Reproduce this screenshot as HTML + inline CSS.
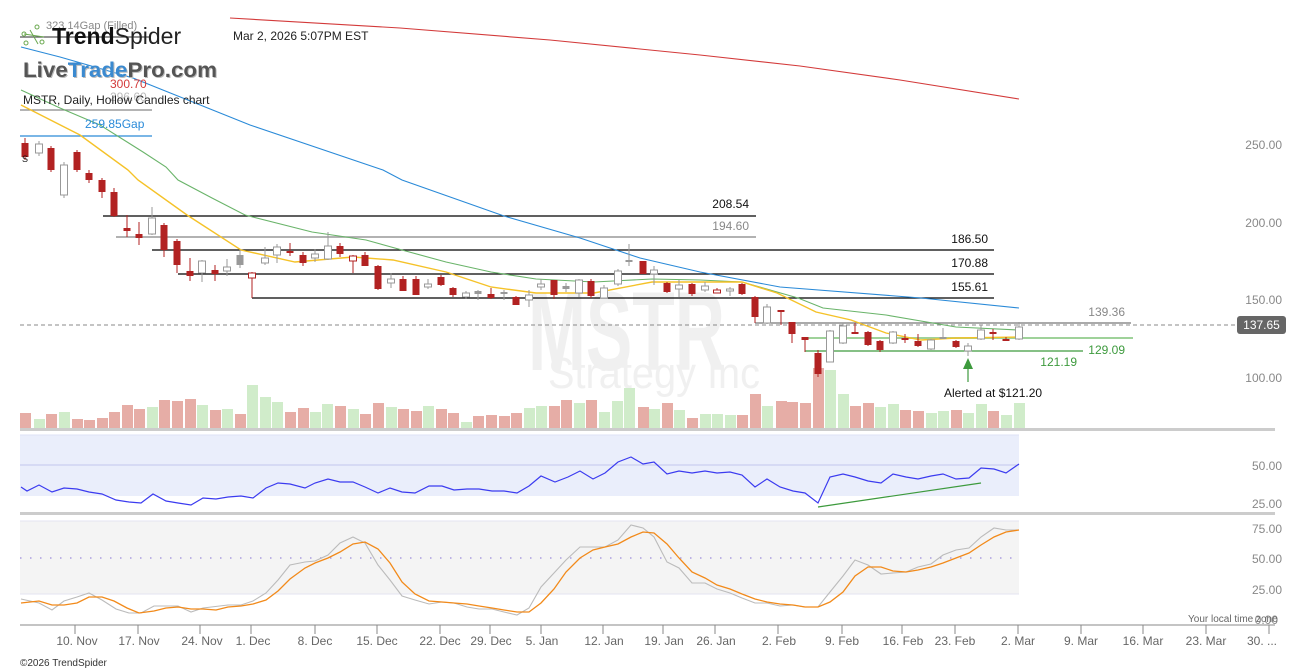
<!DOCTYPE html>
<html><head><meta charset="utf-8"><style>
body{margin:0;background:#fff;}
svg{display:block;font-family:"Liberation Sans",sans-serif;}
</style></head><body>
<svg width="1307" height="672" viewBox="0 0 1307 672" xmlns="http://www.w3.org/2000/svg">
<rect width="1307" height="672" fill="#fff"/>
<text x="528" y="370" font-size="112" font-weight="bold" fill="#f0f0f0" textLength="197" lengthAdjust="spacingAndGlyphs">MSTR</text>
<text x="548" y="388" font-size="44" fill="#f0f0f0" textLength="212" lengthAdjust="spacingAndGlyphs">Strategy Inc</text>

<g stroke="none">
<g fill="#e6ada6">
<rect x="20" y="413" width="11" height="15"/><rect x="46" y="414" width="11" height="14"/><rect x="72" y="419" width="11" height="9"/><rect x="84" y="420" width="11" height="8"/><rect x="97" y="418" width="11" height="10"/><rect x="109" y="412" width="11" height="16"/><rect x="122" y="405" width="11" height="23"/><rect x="134" y="409" width="11" height="19"/><rect x="159" y="400" width="11" height="28"/><rect x="172" y="401" width="11" height="27"/><rect x="185" y="399" width="11" height="29"/><rect x="210" y="410" width="11" height="18"/><rect x="235" y="414" width="11" height="14"/><rect x="285" y="412" width="11" height="16"/><rect x="298" y="408" width="11" height="20"/><rect x="335" y="406" width="11" height="22"/><rect x="360" y="414" width="11" height="14"/><rect x="373" y="403" width="11" height="25"/><rect x="398" y="409" width="11" height="19"/><rect x="411" y="411" width="11" height="17"/><rect x="436" y="409" width="11" height="19"/><rect x="448" y="413" width="11" height="15"/><rect x="473" y="416" width="11" height="12"/><rect x="486" y="415" width="11" height="13"/><rect x="499" y="416" width="11" height="12"/><rect x="511" y="413" width="11" height="15"/><rect x="549" y="406" width="11" height="22"/><rect x="561" y="400" width="11" height="28"/><rect x="586" y="400" width="11" height="28"/><rect x="638" y="407" width="11" height="21"/><rect x="662" y="403" width="11" height="25"/><rect x="687" y="418" width="11" height="10"/>
<rect x="737" y="415" width="11" height="13"/><rect x="750" y="394" width="11" height="34"/><rect x="776" y="401" width="11" height="27"/><rect x="787" y="402" width="11" height="26"/><rect x="800" y="403" width="11" height="25"/><rect x="813" y="368" width="11" height="60"/><rect x="850" y="406" width="11" height="22"/><rect x="863" y="403" width="11" height="25"/><rect x="900" y="410" width="11" height="18"/><rect x="913" y="411" width="11" height="17"/><rect x="951" y="410" width="11" height="18"/><rect x="988" y="411" width="11" height="17"/>
</g>
<g fill="#d0ecca">
<rect x="34" y="419" width="11" height="9"/><rect x="59" y="412" width="11" height="16"/><rect x="147" y="407" width="11" height="21"/><rect x="197" y="405" width="11" height="23"/><rect x="222" y="409" width="11" height="19"/><rect x="247" y="385" width="11" height="43"/><rect x="260" y="397" width="11" height="31"/><rect x="272" y="402" width="11" height="26"/><rect x="310" y="412" width="11" height="16"/><rect x="322" y="404" width="11" height="24"/><rect x="348" y="409" width="11" height="19"/><rect x="386" y="407" width="11" height="21"/><rect x="423" y="406" width="11" height="22"/><rect x="461" y="422" width="11" height="6"/><rect x="524" y="408" width="11" height="20"/><rect x="536" y="406" width="11" height="22"/><rect x="574" y="403" width="11" height="25"/><rect x="599" y="412" width="11" height="16"/><rect x="612" y="401" width="11" height="27"/><rect x="624" y="388" width="11" height="40"/><rect x="649" y="409" width="11" height="19"/><rect x="674" y="410" width="11" height="18"/>
<rect x="700" y="414" width="11" height="14"/><rect x="712" y="414" width="11" height="14"/><rect x="725" y="415" width="11" height="13"/><rect x="762" y="406" width="11" height="22"/><rect x="825" y="370" width="11" height="58"/><rect x="838" y="394" width="11" height="34"/><rect x="875" y="407" width="11" height="21"/><rect x="888" y="404" width="11" height="24"/><rect x="926" y="413" width="11" height="15"/><rect x="938" y="411" width="11" height="17"/><rect x="963" y="413" width="11" height="15"/><rect x="976" y="404" width="11" height="24"/><rect x="1001" y="415" width="11" height="13"/><rect x="1014" y="403" width="11" height="25"/>
</g>
</g>
<rect x="20" y="428" width="1255" height="3" fill="#cccccc"/>

<g stroke-width="1.2">
<line x1="103" y1="216" x2="756" y2="216" stroke="#000"/>
<line x1="116" y1="237" x2="756" y2="237" stroke="#999" stroke-width="1.5"/>
<line x1="152" y1="250" x2="994" y2="250" stroke="#000"/>
<line x1="178" y1="274" x2="994" y2="274" stroke="#000"/>
<line x1="252" y1="298" x2="994" y2="298" stroke="#000"/>
<line x1="755" y1="323" x2="1131" y2="323" stroke="#777"/>
<line x1="805" y1="338" x2="1133" y2="338" stroke="#9fd29a" stroke-width="2"/>
<line x1="805" y1="351" x2="1083" y2="351" stroke="#3d9a3d"/>
<line x1="20" y1="37" x2="150" y2="37" stroke="#555"/>
<line x1="20" y1="110" x2="152" y2="110" stroke="#888"/>
<line x1="20" y1="136" x2="152" y2="136" stroke="#2a8ad8"/>
</g>
<line x1="20" y1="325" x2="1235" y2="325" stroke="#888" stroke-dasharray="4,3"/>
<g font-size="12" text-anchor="end">
<text x="749" y="208" fill="#111">208.54</text>
<text x="749" y="230" fill="#888">194.60</text>
<text x="988" y="243" fill="#111">186.50</text>
<text x="988" y="267" fill="#111">170.88</text>
<text x="988" y="291" fill="#111">155.61</text>
<text x="1125" y="316" fill="#888">139.36</text>
<text x="1125" y="354" fill="#3d9a3d">129.09</text>
<text x="1077" y="366" fill="#3d9a3d">121.19</text>
</g>

<g fill="none" stroke-width="1.1">
<polyline stroke="#d33a3a" points="230,18 400,28 550,40 700,55 800,66 900,80 1019,99"/>
<polyline stroke="#2a8ad8" points="21,47 60,57 133,78 250,125 383,170 402,180 504,216 580,238 640,258 700,272 780,287 921,298 1019,308"/>
<polyline stroke="#6ab46a" points="21,90 60,108 100,125 143,152 166,167 178,180 212,198 245,215 312,232 366,240 402,250 446,262 491,272 536,279 594,282 652,279 700,280 742,282 798,298 823,308 886,315 956,327 1019,330"/>
<polyline stroke="#f5c228" stroke-width="1.4" points="21,105 80,135 128,170 138,180 187,215 241,250 295,262 353,257 393,260 446,272 491,287 536,293 594,293 652,282 742,282 777,293 816,312 851,320 886,333 921,340 956,338 1019,337"/>
</g>

<g stroke-width="1">
<g stroke="#b22222"><line x1="25" y1="138" x2="25" y2="160"/><line x1="51" y1="146" x2="51" y2="172"/><line x1="77" y1="150" x2="77" y2="172"/><line x1="89" y1="170" x2="89" y2="183"/><line x1="102" y1="178" x2="102" y2="198"/><line x1="114" y1="188" x2="114" y2="217"/><line x1="127" y1="215" x2="127" y2="237"/><line x1="139" y1="222" x2="139" y2="245"/><line x1="164" y1="223" x2="164" y2="257"/><line x1="177" y1="239" x2="177" y2="273"/><line x1="190" y1="258" x2="190" y2="281"/><line x1="215" y1="265" x2="215" y2="281"/><line x1="252" y1="272" x2="252" y2="298"/><line x1="290" y1="243" x2="290" y2="256"/><line x1="303" y1="252" x2="303" y2="266"/><line x1="340" y1="243" x2="340" y2="257"/><line x1="353" y1="255" x2="353" y2="273"/><line x1="365" y1="252" x2="365" y2="266"/><line x1="378" y1="265" x2="378" y2="290"/><line x1="403" y1="276" x2="403" y2="291"/><line x1="416" y1="276" x2="416" y2="295"/><line x1="441" y1="275" x2="441" y2="286"/><line x1="453" y1="287" x2="453" y2="297"/><line x1="491" y1="288" x2="491" y2="299"/><line x1="516" y1="296" x2="516" y2="305"/><line x1="554" y1="280" x2="554" y2="299"/><line x1="591" y1="279" x2="591" y2="298"/><line x1="643" y1="261" x2="643" y2="274"/><line x1="667" y1="282" x2="667" y2="293"/><line x1="692" y1="283" x2="692" y2="296"/><line x1="717" y1="288" x2="717" y2="293"/><line x1="742" y1="283" x2="742" y2="295"/><line x1="755" y1="296" x2="755" y2="323"/><line x1="781" y1="310" x2="781" y2="325"/><line x1="792" y1="322" x2="792" y2="343"/><line x1="805" y1="337" x2="805" y2="352"/><line x1="818" y1="350" x2="818" y2="377"/><line x1="855" y1="323" x2="855" y2="333"/><line x1="868" y1="331" x2="868" y2="346"/><line x1="880" y1="340" x2="880" y2="352"/><line x1="905" y1="334" x2="905" y2="343"/><line x1="918" y1="334" x2="918" y2="347"/><line x1="956" y1="340" x2="956" y2="348"/><line x1="993" y1="329" x2="993" y2="340"/><line x1="1006" y1="337" x2="1006" y2="341"/></g>
<g fill="#b22222"><rect x="21.5" y="143" width="7" height="14"/><rect x="47.5" y="148" width="7" height="22"/><rect x="73.5" y="152" width="7" height="18"/><rect x="85.5" y="173" width="7" height="7"/><rect x="98.5" y="180" width="7" height="12"/><rect x="110.5" y="192" width="7" height="24"/><rect x="123.5" y="228" width="7" height="3"/><rect x="135.5" y="234" width="7" height="4"/><rect x="160.5" y="225" width="7" height="25"/><rect x="173.5" y="241" width="7" height="24"/><rect x="186.5" y="271" width="7" height="5"/><rect x="211.5" y="270" width="7" height="4"/><rect x="286.5" y="251" width="7" height="2"/><rect x="299.5" y="255" width="7" height="8"/><rect x="336.5" y="246" width="7" height="8"/><rect x="361.5" y="255" width="7" height="11"/><rect x="374.5" y="266" width="7" height="23"/><rect x="399.5" y="279" width="7" height="12"/><rect x="412.5" y="279" width="7" height="16"/><rect x="437.5" y="277" width="7" height="8"/><rect x="449.5" y="288" width="7" height="7"/><rect x="487.5" y="294" width="7" height="4"/><rect x="512.5" y="297" width="7" height="8"/><rect x="550.5" y="280" width="7" height="15"/><rect x="587.5" y="281" width="7" height="15"/><rect x="639.5" y="261" width="7" height="13"/><rect x="663.5" y="283" width="7" height="9"/><rect x="688.5" y="284" width="7" height="10"/><rect x="738.5" y="284" width="7" height="10"/><rect x="751.5" y="297" width="7" height="20"/><rect x="777.5" y="310" width="7" height="2"/><rect x="788.5" y="322" width="7" height="12"/><rect x="801.5" y="337" width="7" height="3"/><rect x="814.5" y="353" width="7" height="21"/><rect x="851.5" y="332" width="7" height="2"/><rect x="864.5" y="332" width="7" height="13"/><rect x="876.5" y="341" width="7" height="9"/><rect x="901.5" y="338" width="7" height="2"/><rect x="914.5" y="341" width="7" height="5"/><rect x="952.5" y="341" width="7" height="6"/><rect x="989.5" y="332" width="7" height="2"/><rect x="1002.5" y="339" width="7" height="2"/></g>
<g fill="#fff" stroke="#b22222"><rect x="248.5" y="273" width="7" height="5"/><rect x="349.5" y="256" width="7" height="5"/><rect x="713.5" y="290" width="7" height="3"/></g>
<g stroke="#999"><line x1="39" y1="141" x2="39" y2="156"/><line x1="64" y1="162" x2="64" y2="198"/><line x1="152" y1="207" x2="152" y2="235"/><line x1="202" y1="260" x2="202" y2="282"/><line x1="227" y1="259" x2="227" y2="276"/><line x1="240" y1="250" x2="240" y2="268"/><line x1="265" y1="247" x2="265" y2="265"/><line x1="277" y1="244" x2="277" y2="263"/><line x1="315" y1="249" x2="315" y2="262"/><line x1="328" y1="232" x2="328" y2="260"/><line x1="391" y1="273" x2="391" y2="288"/><line x1="428" y1="279" x2="428" y2="289"/><line x1="466" y1="291" x2="466" y2="299"/><line x1="478" y1="290" x2="478" y2="300"/><line x1="504" y1="290" x2="504" y2="300"/><line x1="529" y1="290" x2="529" y2="307"/><line x1="541" y1="279" x2="541" y2="290"/><line x1="566" y1="283" x2="566" y2="292"/><line x1="579" y1="279" x2="579" y2="297"/><line x1="604" y1="285" x2="604" y2="298"/><line x1="618" y1="269" x2="618" y2="286"/><line x1="629" y1="244" x2="629" y2="266"/><line x1="654" y1="266" x2="654" y2="285"/><line x1="679" y1="280" x2="679" y2="297"/><line x1="705" y1="282" x2="705" y2="292"/><line x1="730" y1="287" x2="730" y2="296"/><line x1="767" y1="304" x2="767" y2="324"/><line x1="830" y1="330" x2="830" y2="362"/><line x1="843" y1="323" x2="843" y2="344"/><line x1="893" y1="331" x2="893" y2="344"/><line x1="931" y1="339" x2="931" y2="350"/><line x1="943" y1="328" x2="943" y2="338"/><line x1="968" y1="343" x2="968" y2="356"/><line x1="981" y1="325" x2="981" y2="340"/><line x1="1019" y1="322" x2="1019" y2="340"/></g>
<g fill="#fff" stroke="#999"><rect x="35.5" y="144" width="7" height="9"/><rect x="60.5" y="165" width="7" height="30"/><rect x="148.5" y="218" width="7" height="16"/><rect x="198.5" y="261" width="7" height="12"/><rect x="223.5" y="267" width="7" height="4"/><rect x="261.5" y="258" width="7" height="5"/><rect x="273.5" y="247" width="7" height="8"/><rect x="311.5" y="254" width="7" height="4"/><rect x="324.5" y="246" width="7" height="13"/><rect x="387.5" y="279" width="7" height="4"/><rect x="424.5" y="284" width="7" height="3"/><rect x="462.5" y="293" width="7" height="4"/><rect x="525.5" y="295" width="7" height="5"/><rect x="537.5" y="284" width="7" height="3"/><rect x="575.5" y="280" width="7" height="13"/><rect x="600.5" y="288" width="7" height="10"/><rect x="614.5" y="271" width="7" height="13"/><rect x="650.5" y="270" width="7" height="4"/><rect x="675.5" y="285" width="7" height="4"/><rect x="701.5" y="286" width="7" height="4"/><rect x="726.5" y="289" width="7" height="2"/><rect x="763.5" y="307" width="7" height="16"/><rect x="826.5" y="331" width="7" height="31"/><rect x="839.5" y="326" width="7" height="17"/><rect x="889.5" y="332" width="7" height="11"/><rect x="927.5" y="340" width="7" height="9"/><rect x="964.5" y="346" width="7" height="5"/><rect x="977.5" y="330" width="7" height="9"/><rect x="1015.5" y="327" width="7" height="12"/></g>
<g fill="#999"><rect x="236.5" y="255" width="7" height="10"/><rect x="474.5" y="291" width="7" height="3"/><rect x="500.5" y="292" width="7" height="2"/><rect x="562.5" y="286" width="7" height="3"/><rect x="625.5" y="260" width="7" height="2"/><rect x="939.5" y="337" width="7" height="2"/></g>
</g>

<line x1="968" y1="366" x2="968" y2="382" stroke="#3d9a3d" stroke-width="1.2"/>
<polygon points="968,358 963,369 973,369" fill="#3d9a3d"/>
<text x="944" y="397" font-size="12" fill="#111">Alerted at $121.20</text>

<rect x="1237" y="316" width="49" height="18" rx="3" fill="#666"/>
<text x="1261.5" y="329" font-size="12" fill="#fff" text-anchor="middle">137.65</text>
<g font-size="12" fill="#888" text-anchor="end">
<text x="1282" y="149">250.00</text><text x="1282" y="227">200.00</text><text x="1282" y="304">150.00</text><text x="1282" y="382">100.00</text>
<text x="1282" y="470">50.00</text><text x="1282" y="508">25.00</text>
<text x="1282" y="533">75.00</text><text x="1282" y="563">50.00</text><text x="1282" y="594">25.00</text>
<text x="1278" y="624">0.00</text>
</g>
<text x="1188" y="622" font-size="10" fill="#666">Your local time zone</text>

<text x="46" y="29" font-size="11" fill="#888">323.14Gap (Filled)</text>
<g stroke="#6aa84f" fill="none" stroke-width="1"><circle cx="24" cy="34" r="2"/><circle cx="26" cy="43" r="2"/><circle cx="37" cy="27" r="2"/><circle cx="42" cy="42" r="2"/><line x1="24" y1="34" x2="44" y2="37"/><line x1="30" y1="30" x2="38" y2="44"/></g>
<text x="52" y="44" font-size="23" fill="#111"><tspan font-weight="bold">Trend</tspan><tspan font-weight="normal" fill="#222">Spider</tspan></text>
<text x="233" y="40" font-size="12" fill="#222">Mar 2, 2026 5:07PM EST</text>
<text x="24" y="78" font-size="21" font-weight="bold" fill="#bbb" textLength="194" lengthAdjust="spacingAndGlyphs">LiveTradePro.com</text>
<text x="23" y="77" font-size="21" font-weight="bold" fill="#555" textLength="194" lengthAdjust="spacingAndGlyphs">Live<tspan fill="#3b8ad0">Trade</tspan>Pro.com</text>
<text x="110" y="88" font-size="12" fill="#d33a3a">300.70</text>
<text x="110" y="101" font-size="12" fill="#bbb">296.60</text>
<text x="23" y="104" font-size="12" fill="#222">MSTR, Daily, Hollow Candles chart</text>
<text x="85" y="128" font-size="12" fill="#2a8ad8">259.85Gap</text>
<text x="22" y="162" font-size="9" fill="#111">S</text>

<rect x="20" y="435" width="999" height="61" fill="#eaeefb"/>
<line x1="20" y1="435" x2="1019" y2="435" stroke="#dde2f5"/>
<line x1="20" y1="465" x2="1019" y2="465" stroke="#c9cdef" stroke-width="1.2"/>
<polyline fill="none" stroke="#3b3bf0" stroke-width="1.2" points="21,487 27,491 39,485 52,492 64,488 77,489 89,492 102,494 116,500 129,502 141,503 153,494 166,501 178,503 191,505 203,498 216,499 228,497 241,496 253,498 266,488 278,483 290,484 305,488 315,483 328,479 340,482 353,482 365,487 378,493 390,488 402,492 415,493 429,486 442,486 454,490 467,489 479,489 492,491 504,491 517,493 529,486 541,476 555,482 568,477 580,471 593,479 605,473 618,462 631,457 643,464 654,462 667,474 679,471 692,473 705,471 717,473 730,472 742,475 755,487 767,479 780,487 793,491 805,493 818,503 830,477 843,474 855,477 868,481 881,483 893,474 906,477 918,479 931,476 943,474 956,479 969,478 981,468 994,469 1006,473 1019,464"/>
<line x1="818" y1="507" x2="981" y2="483" stroke="#3d9a3d" stroke-width="1.2"/>
<rect x="20" y="512" width="1255" height="3" fill="#cccccc"/>

<rect x="20" y="521" width="999" height="73" fill="#f4f4f4"/>
<line x1="20" y1="521" x2="1019" y2="521" stroke="#e3e3f0"/>
<line x1="20" y1="594" x2="1019" y2="594" stroke="#e3e3f0"/>
<line x1="20" y1="558" x2="1019" y2="558" stroke="#a99be0" stroke-width="1.5" stroke-dasharray="1.5,8.5"/>
<polyline fill="none" stroke="#bbb" stroke-width="1.1" points="21,599 39,603 52,610 64,601 77,597 89,593 102,600 116,609 129,613 141,613 154,606 178,606 191,612 203,608 228,605 241,605 253,601 266,593 278,580 290,565 305,562 315,561 328,555 340,543 353,537 365,543 378,565 390,580 402,596 415,600 429,604 442,602 454,603 467,607 479,609 492,609 504,612 517,615 529,608 541,587 554,573 566,560 580,547 593,547 605,547 618,540 631,525 643,528 654,537 667,562 679,568 692,583 705,583 717,589 730,593 742,598 755,603 767,603 780,606 793,605 805,607 818,607 830,592 843,576 855,560 868,565 881,574 893,573 906,572 918,567 931,564 943,555 956,550 969,548 981,537 994,528 1006,530 1019,530"/>
<polyline fill="none" stroke="#f28a1a" stroke-width="1.3" points="21,603 39,601 52,605 64,605 77,603 89,597 102,597 114,601 127,608 139,613 154,611 166,608 178,607 191,609 203,609 216,610 228,607 241,606 253,604 266,600 278,591 290,579 305,568 315,563 328,558 340,552 353,544 365,542 378,549 390,563 402,582 415,594 429,601 442,602 454,603 467,604 479,606 492,608 504,610 517,612 529,612 541,603 554,589 566,572 580,558 593,550 605,547 618,544 631,537 643,532 654,533 667,544 679,558 692,572 705,578 717,585 730,589 742,594 755,599 767,602 780,604 793,605 805,607 818,607 830,602 843,592 855,576 868,567 881,567 893,571 906,572 918,570 931,567 943,563 956,558 969,553 981,545 994,537 1006,532 1019,530"/>

<line x1="20" y1="625" x2="1275" y2="625" stroke="#888" stroke-width="1"/>
<g stroke="#888"><line x1="75" y1="625" x2="75" y2="634"/><line x1="138" y1="625" x2="138" y2="634"/><line x1="200" y1="625" x2="200" y2="634"/><line x1="251" y1="625" x2="251" y2="634"/><line x1="315" y1="625" x2="315" y2="634"/><line x1="377" y1="625" x2="377" y2="634"/><line x1="440" y1="625" x2="440" y2="634"/><line x1="490" y1="625" x2="490" y2="634"/><line x1="541" y1="625" x2="541" y2="634"/><line x1="603" y1="625" x2="603" y2="634"/><line x1="663" y1="625" x2="663" y2="634"/><line x1="715" y1="625" x2="715" y2="634"/><line x1="778" y1="625" x2="778" y2="634"/><line x1="842" y1="625" x2="842" y2="634"/><line x1="902" y1="625" x2="902" y2="634"/><line x1="955" y1="625" x2="955" y2="634"/><line x1="1018" y1="625" x2="1018" y2="634"/><line x1="1081" y1="625" x2="1081" y2="634"/><line x1="1143" y1="625" x2="1143" y2="634"/><line x1="1206" y1="625" x2="1206" y2="634"/><line x1="1269" y1="625" x2="1269" y2="634"/></g>
<g font-size="12" fill="#666" text-anchor="middle">
<text x="77" y="645">10. Nov</text><text x="139" y="645">17. Nov</text><text x="202" y="645">24. Nov</text><text x="253" y="645">1. Dec</text><text x="315" y="645">8. Dec</text><text x="377" y="645">15. Dec</text><text x="440" y="645">22. Dec</text><text x="491" y="645">29. Dec</text><text x="542" y="645">5. Jan</text><text x="604" y="645">12. Jan</text><text x="664" y="645">19. Jan</text><text x="716" y="645">26. Jan</text><text x="779" y="645">2. Feb</text><text x="842" y="645">9. Feb</text><text x="903" y="645">16. Feb</text><text x="955" y="645">23. Feb</text><text x="1018" y="645">2. Mar</text><text x="1081" y="645">9. Mar</text><text x="1143" y="645">16. Mar</text><text x="1206" y="645">23. Mar</text><text x="1262" y="645">30. ...</text>
</g>
<text x="20" y="666" font-size="10" fill="#333">©2026 TrendSpider</text>
</svg>
</body></html>
